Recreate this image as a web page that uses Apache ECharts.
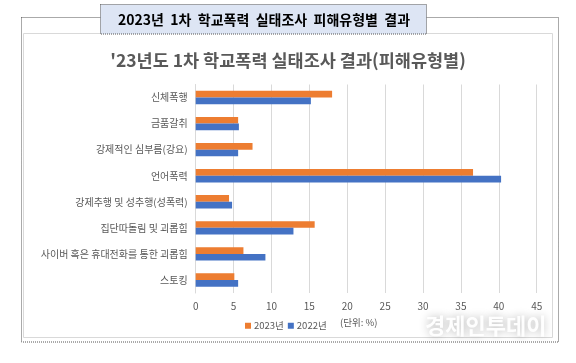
<!DOCTYPE html>
<html><head><meta charset="utf-8">
<script src="https://cdn.jsdelivr.net/npm/echarts@6/dist/echarts.min.js"></script>
<style>html,body{margin:0;padding:0;background:#fff}#c{width:576px;height:363px}</style>
</head><body><div id="c"></div>
<script>
const categories = ['신체폭행','금품갈취','강제적인 심부름(강요)','언어폭력','강제추행 및 성추행(성폭력)','집단따돌림 및 괴롭힘','사이버 혹은 휴대전화를 통한 괴롭힘','스토킹'];
const values2023 = [18.0, 5.6, 7.5, 36.6, 4.4, 15.7, 6.3, 5.1];
const values2022 = [15.2, 5.7, 5.6, 40.3, 4.8, 12.9, 9.2, 5.6];
const xTicks = {min: 0, max: 45, interval: 5};
const F = '"Noto Sans CJK KR", "Noto Sans", sans-serif';
const chart = echarts.init(document.getElementById('c'));
chart.setOption({
  backgroundColor: '#fff',
  animation: false,
  textStyle: {fontFamily: F},
  graphic: [
    {type:'rect', z:-10, shape:{x:21.5,y:17.5,width:537,height:324.5}, style:{fill:'#fff', stroke:'#555', lineWidth:1, lineDash:[1,1]}},
    {type:'rect', z:-9, shape:{x:23.5,y:33.5,width:529,height:304}, style:{fill:'#fff', stroke:'#d9d9d9', lineWidth:1}},
    {type:'rect', z:-8, shape:{x:100.5,y:4.5,width:326,height:29.5}, style:{fill:'#dde5f4', stroke:'#555', lineWidth:1, lineDash:[1,1]}},
    {type:'text', z:-7, style:{x:264, y:19.5, text:'2023년  1차  학교폭력  실태조사  피해유형별  결과', textAlign:'center', textVerticalAlign:'middle', fill:'#000', font:'bold 14px '+F}},
    {type:'text', style:{x:340, y:322, text:'(단위: %)', textVerticalAlign:'middle', fill:'#595959', font:'9.5px '+F}},
    {type:'text', style:{x:425, y:326, text:'경제인투데이', textVerticalAlign:'middle', fill:'rgba(255,255,255,0.95)', font:'bold 22px '+F, textShadowColor:'rgba(0,0,0,0.3)', textShadowBlur:8}}
  ],
  title: {text: "'23년도 1차 학교폭력 실태조사 결과(피해유형별)", left: 'center', top: 47,
    textStyle: {fontFamily: F, fontSize: 17.5, fontWeight: 'bold', color: '#595959'}},
  legend: {data:['2023년','2022년'], left: 240, top: 316, itemWidth: 6, itemHeight: 6, itemGap: 4,
    icon: 'rect', textStyle: {fontFamily: F, fontSize: 9.5, color: '#595959', padding:[0,0,0,-2]}},
  grid: {left: 195.7, right: 39.3, top: 84.5, bottom: 70, containLabel: false},
  xAxis: {type:'value', min: xTicks.min, max: xTicks.max, interval: xTicks.interval,
    axisLine:{show:false}, axisTick:{show:false},
    axisLabel:{color:'#595959', fontSize:10, fontFamily:F, margin:8},
    splitLine:{lineStyle:{color:'#d9d9d9', width:1}}},
  yAxis: {type:'category', data: categories, inverse: true,
    axisLine:{show:true, lineStyle:{color:'#d9d9d9'}}, axisTick:{show:false},
    axisLabel:{color:'#595959', fontSize:10, fontFamily:F, margin:8}},
  series: [
    {name:'2023년', type:'bar', data: values2023, barWidth: 6.7, barGap: '0%', itemStyle:{color:'#ED7D31'}},
    {name:'2022년', type:'bar', data: values2022, barWidth: 6.7, barGap: '0%', itemStyle:{color:'#4472C4'}}
  ]
});
</script></body></html>
